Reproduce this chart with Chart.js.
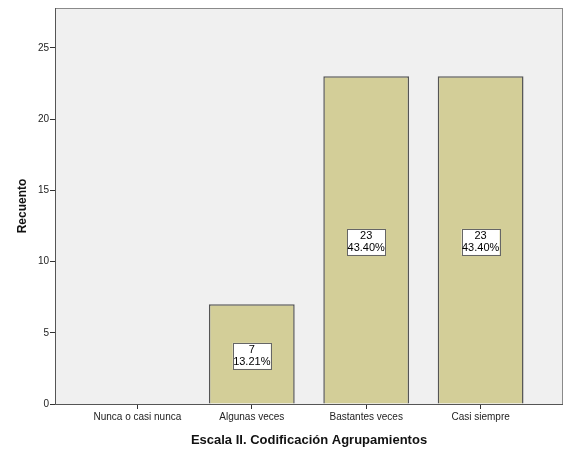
<!DOCTYPE html>
<html>
<head>
<meta charset="utf-8">
<script src="https://cdn.jsdelivr.net/npm/chart.js@4.4.0/dist/chart.umd.min.js"></script>
<style>
  html, body { margin: 0; padding: 0; background: #fff; }
  #wrap { width: 566px; height: 452px; }
</style>
</head>
<body>
<div id="wrap"><canvas id="chart" width="566" height="452"></canvas></div>
<script>
// values
const categories = ['Nunca o casi nunca', 'Algunas veces', 'Bastantes veces', 'Casi siempre'];
const counts = [0, 7, 23, 23];
const percents = ['0.00%', '13.21%', '43.40%', '43.40%'];
const yTicks = [0, 5, 10, 15, 20, 25];

const fontName = '"Liberation Sans", Arial, sans-serif';

// plot frame + grey background
const frame = {
	id: 'frame',
	beforeDraw: function (chart) {
		const a = chart.chartArea, ctx = chart.ctx;
		ctx.save();
		ctx.fillStyle = '#f0f0f0';
		ctx.fillRect(a.left, a.top, a.right - a.left, a.bottom - a.top);
		ctx.restore();
	},
	afterDraw: function (chart) {
		const a = chart.chartArea, ctx = chart.ctx;
		ctx.save();
		ctx.strokeStyle = '#8a8a8a';
		ctx.lineWidth = 1;
		ctx.strokeRect(a.left + 0.5, a.top + 0.5, a.right - a.left - 1, a.bottom - a.top);
		ctx.strokeStyle = '#555';
		ctx.beginPath();
		ctx.moveTo(a.left + 0.5, a.top);
		ctx.lineTo(a.left + 0.5, a.bottom + 0.5);
		ctx.lineTo(a.right, a.bottom + 0.5);
		ctx.stroke();
		ctx.restore();
	}
};

// boxed count / percent labels in the middle of each bar
const boxLabels = {
	id: 'boxLabels',
	afterDatasetsDraw: function (chart) {
		const ctx = chart.ctx;
		const meta = chart.getDatasetMeta(0);
		ctx.save();
		ctx.font = '11px ' + fontName;
		ctx.textAlign = 'center';
		ctx.textBaseline = 'middle';
		meta.data.forEach(function (bar, i) {
			if (!counts[i]) return;
			const cx = bar.x;
			const cy = (bar.y + bar.base) / 2 + 2;
			const w = 38, h = 26;
			ctx.fillStyle = '#fff';
			ctx.fillRect(cx - w / 2, cy - h / 2, w, h);
			ctx.strokeStyle = '#666';
			ctx.lineWidth = 1;
			ctx.strokeRect(Math.round(cx - w / 2) + 0.5, Math.round(cy - h / 2) + 0.5, w, h);
			ctx.fillStyle = '#000';
			ctx.fillText(String(counts[i]), cx, cy - 6);
			ctx.fillText(percents[i], cx, cy + 6);
		});
		ctx.restore();
	}
};

new Chart(document.getElementById('chart'), {
	type: 'bar',
	data: {
		datasets: [{
			data: counts.map(function (v, i) { return { x: i, y: v }; }),
			backgroundColor: '#d3ce98',
			borderColor: '#555',
			borderWidth: 1.5,
			borderSkipped: 'bottom',
			barPercentage: 0.75,
			categoryPercentage: 1
		}]
	},
	options: {
		responsive: false,
		animation: false,
		layout: { padding: { top: 8, right: 3, left: 0, bottom: 0 } },
		plugins: {
			legend: { display: false },
			tooltip: { enabled: false }
		},
		scales: {
			x: {
				type: 'linear',
				offset: false,
				min: -0.72,
				max: 3.72,
				afterBuildTicks: function (scale) {
					scale.ticks = categories.map(function (c, i) { return { value: i }; });
				},
				afterFit: function (scale) { scale.height = 48; },
				grid: { offset: false, drawOnChartArea: false, drawTicks: true, tickLength: 5, color: '#333' },
				border: { display: false },
				ticks: {
					color: '#222',
					font: { family: fontName, size: 10 },
					maxRotation: 0,
					autoSkip: false,
					padding: 2,
					callback: function (v) { return categories[v]; }
				},
				title: {
					display: true,
					text: 'Escala II. Codificación Agrupamientos',
					color: '#111',
					font: { family: fontName, size: 13, weight: 'bold' },
					padding: { top: 4 }
				}
			},
			y: {
				min: 0,
				max: 27.8,
				afterBuildTicks: function (scale) {
					scale.ticks = yTicks.map(function (v) { return { value: v }; });
				},
				afterFit: function (scale) { scale.width = 55; },
				grid: { drawOnChartArea: false, drawTicks: true, tickLength: 5, color: '#333' },
				border: { display: false },
				ticks: {
					color: '#222',
					font: { family: fontName, size: 10 },
					padding: 1
				},
				title: {
					display: true,
					text: 'Recuento',
					color: '#111',
					font: { family: fontName, size: 12, weight: 'bold' },
					padding: { top: 15, bottom: 0 }
				}
			}
		}
	},
	plugins: [frame, boxLabels]
});
</script>
</body>
</html>
